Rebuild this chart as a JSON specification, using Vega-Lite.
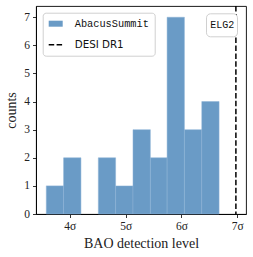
{
  "$schema": "https://vega.github.io/schema/vega-lite/v6.json",
  "width": 210,
  "height": 208,
  "autosize": {"type": "none"},
  "padding": {"left": 36, "top": 6, "right": 7, "bottom": 43},
  "background": "white",
  "config": {
    "view": {"stroke": "black", "strokeWidth": 0.9},
    "axis": {
      "labelFont": "Liberation Serif",
      "titleFont": "Liberation Serif",
      "labelFontSize": 11.5,
      "titleFontSize": 14,
      "titleFontWeight": "normal",
      "labelColor": "#222",
      "titleColor": "#222",
      "tickColor": "black",
      "domainColor": "black",
      "tickSize": 3.5,
      "tickWidth": 0.8,
      "domainWidth": 0.9,
      "grid": false
    }
  },
  "layer": [
    {
      "data": {"values": [
        {"bin_start": 3.570, "bin_end": 3.880, "count": 1},
        {"bin_start": 3.880, "bin_end": 4.191, "count": 2},
        {"bin_start": 4.502, "bin_end": 4.812, "count": 2},
        {"bin_start": 4.812, "bin_end": 5.123, "count": 1},
        {"bin_start": 5.123, "bin_end": 5.434, "count": 3},
        {"bin_start": 5.434, "bin_end": 5.734, "count": 2},
        {"bin_start": 5.734, "bin_end": 6.044, "count": 7},
        {"bin_start": 6.044, "bin_end": 6.355, "count": 3},
        {"bin_start": 6.355, "bin_end": 6.665, "count": 4}
      ]},
      "mark": {"type": "bar", "color": "#6a9bc6", "stroke": "#8db3d6", "strokeWidth": 0.5, "binSpacing": 0},
      "encoding": {
        "x": {
          "field": "bin_start", "type": "quantitative",
          "bin": {"binned": true},
          "scale": {"domain": [3.395, 7.156], "nice": false, "zero": false},
          "axis": {
            "values": [4, 5, 6, 7],
            "labelExpr": "datum.value + 'σ'",
            "title": "BAO detection level",
            "labelPadding": 3,
            "titlePadding": 4
          }
        },
        "x2": {"field": "bin_end"},
        "y": {
          "field": "count", "type": "quantitative",
          "scale": {"domain": [0, 7.4], "nice": false},
          "axis": {
            "values": [0, 1, 2, 3, 4, 5, 6, 7],
            "title": "counts",
            "labelPadding": 3,
            "titlePadding": 5
          }
        }
      }
    },
    {
      "data": {"values": [{"desi_dr1": 6.975}]},
      "mark": {"type": "rule", "color": "black", "strokeDash": [5.5, 2.4], "strokeWidth": 1.5},
      "encoding": {
        "x": {"field": "desi_dr1", "type": "quantitative"}
      }
    },
    {
      "data": {"values": [{"series": "AbacusSummit"}, {"series": "DESI DR1"}]},
      "mark": {"type": "square", "opacity": 0},
      "encoding": {
        "color": {
          "field": "series", "type": "nominal",
          "scale": {"domain": ["AbacusSummit", "DESI DR1"], "range": ["#6a9bc6", "black"]},
          "legend": {
            "title": null,
            "orient": "none",
            "legendX": 6.7,
            "legendY": 6.7,
            "padding": 5,
            "rowPadding": 9,
            "labelOffset": 15,
            "labelFontSize": 10.3,
            "labelColor": "#111",
            "labelFont": {"expr": "datum.value === 'AbacusSummit' ? 'Liberation Mono' : 'DejaVu Sans'"},
            "strokeColor": "#d0d0d0",
            "fillColor": "white",
            "cornerRadius": 3,
            "symbolSize": 100,
            "symbolOpacity": 1,
            "symbolType": {"expr": "datum.value === 'DESI DR1' ? 'M-1,0H1.8' : 'M-1,-0.6H1.8V0.6H-1Z'"},
            "symbolStrokeColor": {"expr": "datum.value === 'DESI DR1' ? 'black' : 'transparent'"},
            "symbolStrokeWidth": 1.5,
            "symbolDash": {"expr": "datum.value === 'DESI DR1' ? [5.5, 2.4] : []"}
          }
        }
      }
    },
    {
      "data": {"values": [{"tracer": "ELG2"}]},
      "mark": {"type": "point", "opacity": 0},
      "encoding": {
        "shape": {
          "field": "tracer", "type": "nominal",
          "legend": {
            "title": null,
            "orient": "none",
            "legendX": 170,
            "legendY": 7.3,
            "padding": 2.2,
            "labelFont": "Liberation Mono",
            "labelFontSize": 10,
            "labelColor": "#111",
            "labelOffset": -17,
            "symbolSize": 289,
            "symbolOpacity": 0,
            "strokeColor": "#d0d0d0",
            "fillColor": "white",
            "cornerRadius": 4
          }
        }
      }
    }
  ]
}
